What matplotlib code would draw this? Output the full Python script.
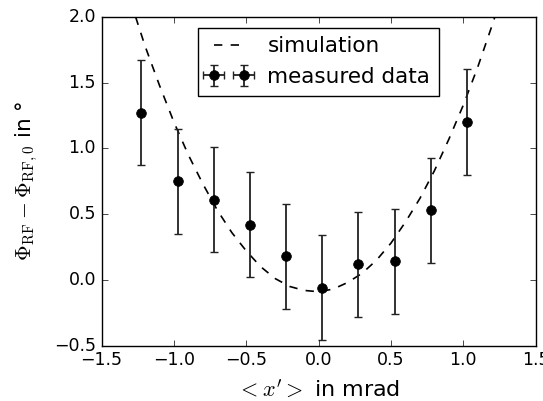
import matplotlib
matplotlib.use("Agg")
import matplotlib.pyplot as plt

# measured points
x_meas = [-1.225, -0.975, -0.725, -0.475, -0.225, 0.025, 0.275, 0.525, 0.775, 1.025]
y_meas = [1.27, 0.75, 0.61, 0.42, 0.18, -0.06, 0.12, 0.14, 0.53, 1.20]
y_err = [0.4, 0.4, 0.4, 0.4, 0.4, 0.4, 0.4, 0.4, 0.4, 0.4]

# simulation curve
x_sim = [-1.3, -1.2, -1.1, -1.0, -0.9, -0.8, -0.7, -0.6, -0.5, -0.4, -0.3, -0.2, -0.1,
         0.0, 0.1, 0.2, 0.3, 0.4, 0.5, 0.6, 0.7, 0.8, 0.9, 1.0, 1.1, 1.2, 1.3]
y_sim = [2.12, 1.78, 1.48, 1.20, 0.95, 0.73, 0.53, 0.36, 0.22, 0.10, 0.01, -0.05, -0.08,
         -0.09, -0.07, -0.02, 0.05, 0.15, 0.28, 0.44, 0.62, 0.83, 1.07, 1.33, 1.62, 1.94, 2.28]

plt.style.use('classic')
plt.rcParams['mathtext.fontset'] = 'cm'

fig = plt.figure(figsize=(5.43, 4.01), dpi=100, facecolor='white')
ax = fig.add_subplot(111)
fig.subplots_adjust(left=0.187, right=0.9866, top=0.958, bottom=0.138)

ax.plot(x_sim, y_sim, 'k--', lw=1.2, label='simulation')
ax.errorbar(x_meas, y_meas, yerr=y_err, xerr=0, fmt='o', color='k', ecolor='#222222',
            markersize=7, elinewidth=1.3, capsize=3, capthick=1.0, label='measured data')

ax.set_xlim(-1.5, 1.5)
ax.set_ylim(-0.5, 2.0)
ax.tick_params(labelsize=12.5)
ax.set_xlabel(r'$<x^\prime>$ in mrad', fontsize=16, labelpad=6)
ax.set_ylabel(r'$\Phi_{\rm RF} - \Phi_{\rm RF,0}$ in °', fontsize=15.5, labelpad=10)
ax.legend(loc='upper center', numpoints=2, fontsize=15.5, borderaxespad=0.5)

fig.savefig('out.png', dpi=100, facecolor='white')
